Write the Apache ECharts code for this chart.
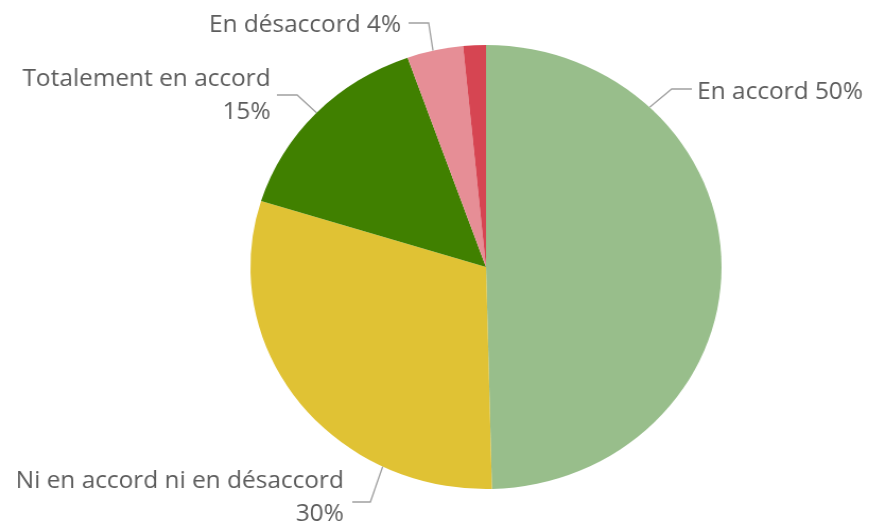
<!DOCTYPE html>
<html>
<head>
<meta charset="utf-8">
<script src="https://cdn.jsdelivr.net/npm/echarts@6/dist/echarts.min.js"></script>
<style>
html,body{margin:0;padding:0;background:#fff;overflow:hidden;}
#c{width:819px;height:523px;transform:scaleX(1.0611);transform-origin:0 0;}
</style>
</head>
<body>
<div id="c"></div>
<script>
// Data
var categories = ['En accord', 'Ni en accord ni en désaccord', 'Totalement en accord', 'En désaccord', 'Totalement en désaccord'];
var values = [49.6, 30.2, 14.8, 3.85, 1.55];
var colors = ['#98BE8B', '#E0C234', '#408000', '#E68E96', '#D64552'];
var twoLine = [false, true, true, false, false];
var showLabel = [true, true, true, true, false];

// Layout
var CX = 458, CY = 267, R = 222;
// per-label: edge angle (deg clockwise from top), elbow, end, text anchor
var labelGeom = [
  {ang: 44, elbow: [633, 89], end: [652, 89], tx: 657, ty: 92, align: 'left'},
  {ang: 206, elbow: [349, 502], end: [332, 502], tx: 324, ty: 498, align: 'right'},
  {ang: 314, elbow: [280, 95], end: [261, 95], tx: 255, ty: 96, align: 'right'},
  {ang: 347, elbow: [404, 23], end: [385, 23], tx: 378, ty: 25, align: 'right'},
  null
];

function edge(ang){
  var a = ang * Math.PI / 180;
  return [CX + R * Math.sin(a), CY - R * Math.cos(a)];
}

var chart = echarts.init(document.getElementById('c'), null, {renderer: 'canvas'});
var data = categories.map(function(n, i){
  return {
    name: n, value: values[i],
    itemStyle: {color: colors[i]},
    label: {show: showLabel[i]},
    labelLine: {show: showLabel[i]}
  };
});

chart.setOption({
  animation: false,
  series: [{
    type: 'pie',
    center: [CX, CY],
    radius: R,
    startAngle: 90,
    clockwise: true,
    data: data,
    itemStyle: {borderWidth: 0},
    label: {
      position: 'outside',
      fontFamily: 'Open Sans',
      fontSize: 23,
      color: '#5C5C5C',
      lineHeight: 33,
      overflow: 'none',
      formatter: function(p){
        var pct = Math.round(p.percent) + '%';
        return twoLine[p.dataIndex] ? p.name + '\n' + pct : p.name + ' ' + pct;
      }
    },
    labelLine: {
      show: true,
      lineStyle: {color: '#A0A0A0', width: 1.3}
    },
    labelLayout: function(params){
      var g = labelGeom[params.dataIndex];
      if (!g) return {};
      return {
        x: g.tx, y: g.ty,
        align: g.align, verticalAlign: 'middle',
        labelLinePoints: [edge(g.ang), g.elbow, g.end]
      };
    }
  }]
});
</script>
</body>
</html>
